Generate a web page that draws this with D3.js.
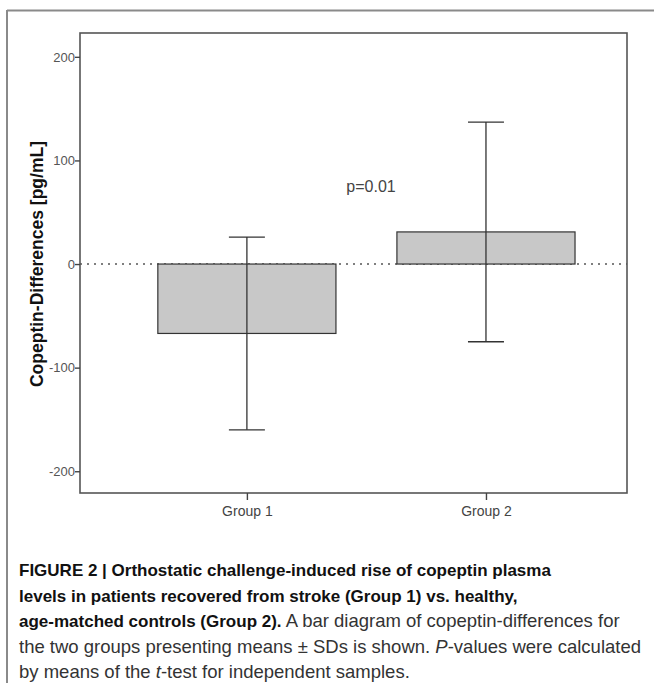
<!DOCTYPE html>
<html>
<head>
<meta charset="utf-8">
<script src="https://cdn.jsdelivr.net/npm/d3@7"></script>
<style>
  html, body { margin: 0; padding: 0; background: #fff; }
  svg { display: block; }
</style>
</head>
<body>
<svg id="fig" width="654" height="683"></svg>
<script>
// Copeptin differences (pg/mL), mean ± SD per group
const groups = ["Group 1", "Group 2"];
const means = [-67, 31];
const sds = [93, 106];
const yTicks = [-200, -100, 0, 100, 200];
const pLabel = "p=0.01";
const yTitle = "Copeptin-Differences [pg/mL]";

const svg = d3.select("#fig");
const font = "'Liberation Sans', Arial, Helvetica, sans-serif";

// page frame (top and left rules)
svg.append("line").attr("x1", 7).attr("x2", 654).attr("y1", 10.5).attr("y2", 10.5)
  .attr("stroke", "#8a8a8a").attr("stroke-width", 2);
svg.append("line").attr("x1", 7).attr("x2", 7).attr("y1", 10).attr("y2", 683)
  .attr("stroke", "#8a8a8a").attr("stroke-width", 2);

const plot = { left: 80, right: 627, top: 33, bottom: 493 };

const y = d3.scaleLinear().domain([-221, 223]).range([plot.bottom, plot.top]);
const x = d3.scalePoint().domain(groups).range([plot.left, plot.right])
  .padding(0.644).align(0.542);
const barW = x.step() * 0.745;
const capW = 36;

const g = svg.append("g");

// zero reference line
g.append("line")
  .attr("x1", plot.left).attr("x2", plot.right)
  .attr("y1", y(0)).attr("y2", y(0))
  .attr("stroke", "#555").attr("stroke-width", 1.4)
  .attr("stroke-dasharray", "2,5");

// bars
g.selectAll("rect.bar").data(groups).join("rect")
  .attr("class", "bar")
  .attr("x", d => x(d) - barW / 2)
  .attr("width", barW)
  .attr("y", (d, i) => y(Math.max(0, means[i])))
  .attr("height", (d, i) => Math.abs(y(means[i]) - y(0)))
  .attr("fill", "#c8c8c8")
  .attr("stroke", "#333").attr("stroke-width", 1.2);

// error bars
const eb = g.selectAll("g.err").data(groups).join("g").attr("class", "err")
  .attr("stroke", "#333").attr("stroke-width", 1.3);
eb.append("line")
  .attr("x1", d => x(d)).attr("x2", d => x(d))
  .attr("y1", (d, i) => y(means[i] + sds[i]))
  .attr("y2", (d, i) => y(means[i] - sds[i]));
eb.append("line")
  .attr("x1", d => x(d) - capW / 2).attr("x2", d => x(d) + capW / 2)
  .attr("y1", (d, i) => y(means[i] + sds[i]))
  .attr("y2", (d, i) => y(means[i] + sds[i]));
eb.append("line")
  .attr("x1", d => x(d) - capW / 2).attr("x2", d => x(d) + capW / 2)
  .attr("y1", (d, i) => y(means[i] - sds[i]))
  .attr("y2", (d, i) => y(means[i] - sds[i]));

// plot frame
g.append("rect")
  .attr("x", plot.left).attr("y", plot.top)
  .attr("width", plot.right - plot.left).attr("height", plot.bottom - plot.top)
  .attr("fill", "none").attr("stroke", "#555").attr("stroke-width", 1.6);

// y axis
const yAxis = g.append("g").attr("transform", `translate(${plot.left},0)`)
  .call(d3.axisLeft(y).tickValues(yTicks).tickFormat(d => String(d)).tickSize(5).tickPadding(0));
yAxis.select(".domain").remove();
yAxis.selectAll("line").attr("stroke", "#444").attr("stroke-width", 1.4);
yAxis.selectAll("text").attr("fill", "#555").style("font-family", font).style("font-size", "13px");

// x axis
const xAxis = g.append("g").attr("transform", `translate(0,${plot.bottom})`)
  .call(d3.axisBottom(x).tickSize(7).tickPadding(6));
xAxis.select(".domain").remove();
xAxis.selectAll("line").attr("stroke", "#444").attr("stroke-width", 1.4);
xAxis.selectAll("text").attr("fill", "#444").style("font-family", font).style("font-size", "14px");

// y axis title
svg.append("text")
  .attr("transform", `translate(43,${y(0)}) rotate(-90)`)
  .attr("text-anchor", "middle")
  .style("font-family", font).style("font-size", "17.5px").style("font-weight", "bold")
  .attr("fill", "#111")
  .text(yTitle);

// significance label
svg.append("text")
  .attr("x", 371).attr("y", y(75)).attr("dy", "0.35em")
  .attr("text-anchor", "middle")
  .style("font-family", font).style("font-size", "16px")
  .attr("fill", "#444")
  .text(pLabel);

// caption
const cap = svg.append("text")
  .style("font-family", font).attr("fill", "#333");
const capLines = [
  [{ t: "FIGURE 2 | Orthostatic challenge-induced rise of copeptin plasma", b: true }],
  [{ t: "levels in patients recovered from stroke (Group 1) vs. healthy,", b: true }],
  [{ t: "age-matched controls (Group 2).", b: true },
   { t: " A bar diagram of copeptin-differences for" }],
  [{ t: "the two groups presenting means \u00B1 SDs is shown. " },
   { t: "P", i: true }, { t: "-values were calculated" }],
  [{ t: "by means of the " }, { t: "t", i: true }, { t: "-test for independent samples." }]
];
const capTop = 576, capStep = 25.5;
capLines.forEach((line, li) => {
  line.forEach((seg, si) => {
    const ts = cap.append("tspan").text(seg.t)
      .attr("font-weight", seg.b ? "bold" : "normal")
      .attr("font-style", seg.i ? "italic" : "normal")
      .attr("font-size", seg.b ? "17px" : "18.5px")
      .attr("fill", seg.b ? "#111" : "#333");
    if (si === 0) ts.attr("x", 19).attr("y", capTop + li * capStep);
  });
});
</script>
</body>
</html>
